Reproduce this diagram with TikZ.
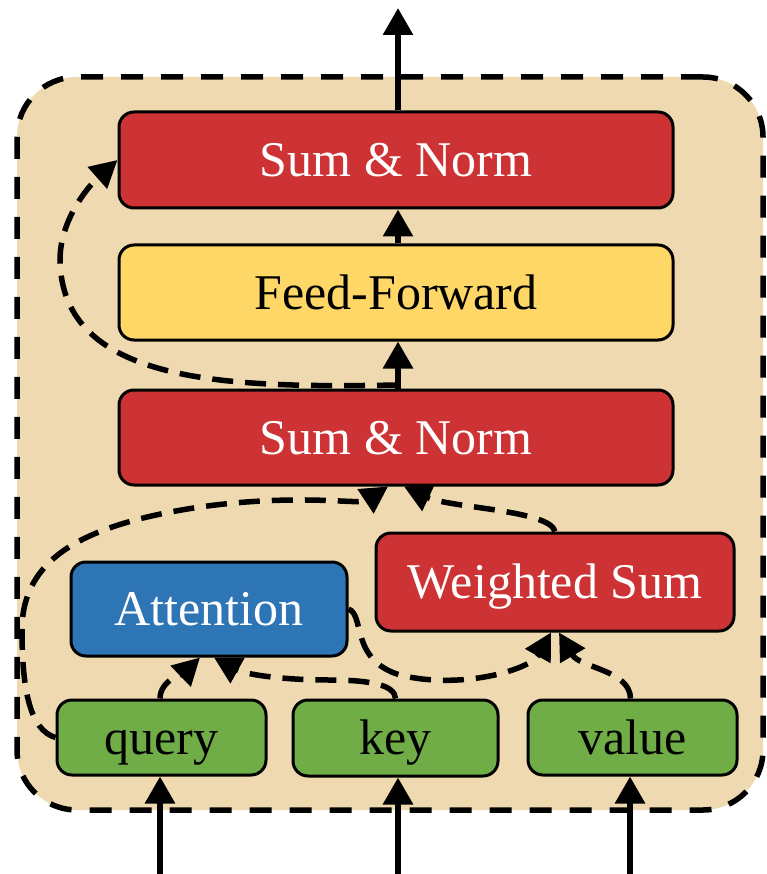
\documentclass[tikz,border=0pt]{standalone}
\usepackage{fontspec}
\setmainfont{Liberation Serif}
\usetikzlibrary{arrows.meta}
\definecolor{tanbg}{RGB}{238,217,176}
\definecolor{boxred}{RGB}{205,51,52}
\definecolor{boxyellow}{RGB}{254,215,102}
\definecolor{boxblue}{RGB}{46,117,182}
\definecolor{boxgreen}{RGB}{112,173,71}
\begin{document}
\begin{tikzpicture}[x=1pt,y=-1pt,
  box/.style={draw=black,line width=3pt,rounded corners=15pt,inner sep=0pt,
    text height=33pt,text depth=0pt,font=\fontsize{50}{60}\selectfont},
  solidarr/.style={line width=6pt,-{Triangle[length=27pt,width=29pt]}},
  dasharr/.style={line width=5.5pt,dash pattern=on 21pt off 12pt,-{Triangle[length=27pt,width=28pt]}}]
\useasboundingbox (0,0) rectangle (767,874);
% outer layer
\node[draw=black,fill=tanbg,line width=5.5pt,dash pattern=on 22pt off 18pt,rounded corners=60pt,
      minimum width=746pt,minimum height=733pt,inner sep=0pt] (layer) at (390,443.5) {};
% boxes
\node[box,fill=boxred,text=white,minimum width=554pt,minimum height=96pt] (sntop) at (396,160) {Sum \& Norm};
\node[box,fill=boxyellow,text=black,minimum width=554pt,minimum height=95pt] (ff) at (396,292.5) {Feed-Forward};
\node[box,fill=boxred,text=white,minimum width=554pt,minimum height=95pt] (sn1) at (396,437.5) {Sum \& Norm};
\node[box,fill=boxblue,text=white,minimum width=276pt,minimum height=94pt] (att) at (209,609) {Attention};
\node[box,fill=boxred,text=white,minimum width=358pt,minimum height=98pt] (ws) at (555,582) {Weighted Sum};
\node[box,fill=boxgreen,text=black,minimum width=209pt,minimum height=75pt] (q) at (161.5,737.5) {query};
\node[box,fill=boxgreen,text=black,minimum width=205pt,minimum height=76pt] (k) at (395.5,738) {key};
\node[box,fill=boxgreen,text=black,minimum width=209pt,minimum height=75pt] (v) at (632.5,737.5) {value};
% coordinates
\coordinate (out) at (398,8);
\coordinate (qin) at (160,874);
\coordinate (kin) at (398,874);
\coordinate (vin) at (630,874);
\coordinate (s2) at (398,385);
% solid arrows
\draw[solidarr] (sntop.north -| out) -- (out);
\draw[solidarr] (ff.north -| out) -- (sntop.south -| out);
\draw[solidarr] (sn1.north -| out) -- (ff.south -| out);
\draw[solidarr] (qin) -- (qin |- q.south);
\draw[solidarr] (kin) -- (kin |- k.south);
\draw[solidarr] (vin) -- (vin |- v.south);
% dashed arrows
\draw[dasharr] (s2) .. controls (230,388) and (62,385) .. (60,260)
  .. controls (60,215) and (95,180) .. (sntop.west);
\draw[dasharr] (q.west) .. controls (30,730) and (22,690) .. (22,630)
  .. controls (22,560) and (80,525) .. (200,507)
  .. controls (300,493) and (360,505) .. ([xshift=-8pt]sn1.south);
\draw[dasharr] (ws.north) .. controls (550,510) and (450,508) .. ([xshift=8pt]sn1.south);
\draw[dasharr] ([xshift=-1.5pt]q.north) .. controls (160,680) and (185,672) .. ([xshift=-9pt]att.south);
\draw[dasharr] (k.north) .. controls (395,685) and (370,680) .. (330,680)
  .. controls (270,680) and (240,672) .. ([xshift=5pt]att.south);
\draw[dasharr] (att.east) .. controls (365,615) and (350,660) .. (400,675)
  .. controls (460,690) and (530,670) .. ([xshift=-4pt]ws.south);
\draw[dasharr] ([xshift=-2pt]v.north) .. controls (630,670) and (580,668) .. ([xshift=4pt]ws.south);
\end{tikzpicture}
\end{document}
